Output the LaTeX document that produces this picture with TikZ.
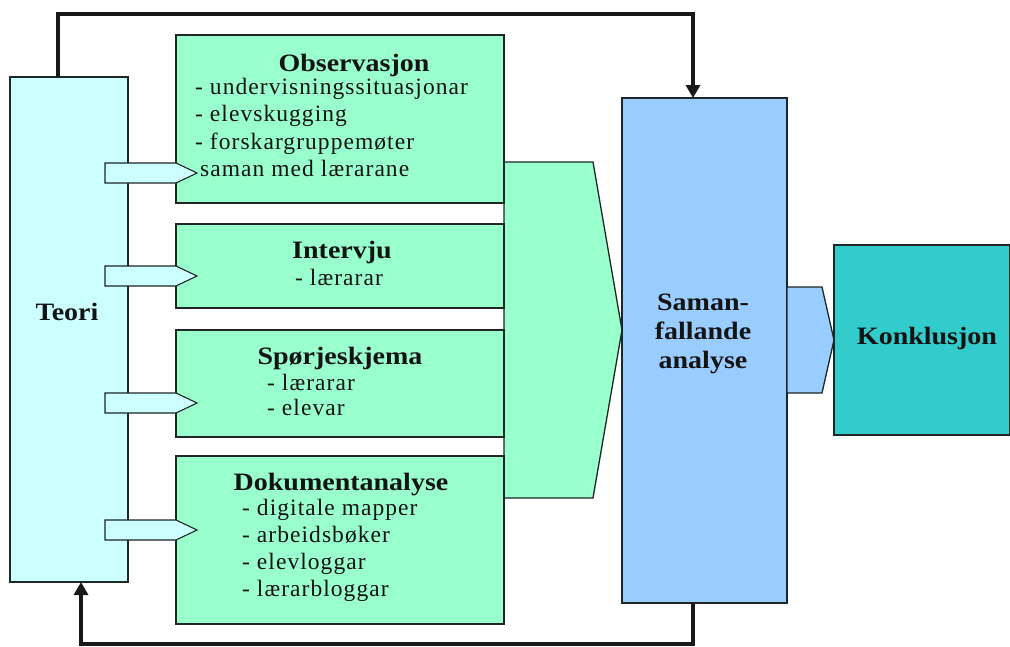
\documentclass[tikz,border=0pt]{standalone}
\usepackage{fontspec}
\setmainfont{Liberation Serif}
\newfontfamily\ttlfont[FakeStretch=1.12]{Liberation Serif}
\newfontfamily\itmfont[LetterSpace=4.5]{Liberation Serif}
\usetikzlibrary{arrows.meta}
\definecolor{teoric}{HTML}{CCFFFF}
\definecolor{greenc}{HTML}{99FFCC}
\definecolor{samanc}{HTML}{99CCFF}
\definecolor{konkc}{HTML}{33CCCC}
\definecolor{edgec}{HTML}{1E2626}
\definecolor{txtc}{HTML}{141414}
\tikzset{
  boxshape/.style={draw=edgec, line width=1.3pt, inner sep=0pt, outer sep=0pt},
  ttl/.style={font=\ttlfont\bfseries\fontsize{25}{29}\selectfont, anchor=base, inner sep=0pt, text=txtc},
  itm/.style={font=\itmfont\fontsize{23.5}{27.5}\selectfont, anchor=base west, inner sep=0pt, text=txtc},
  chev/.style={draw=edgec, line width=1.3pt, line join=miter},
  fbarrow/.style={line width=4pt, draw=black!90, line join=miter, -{Triangle[width=14pt,length=13pt]}}
}
\begin{document}
\begin{tikzpicture}[x=1pt,y=-1pt]
\useasboundingbox (0,0) rectangle (1010,646);
\fill[white] (0,0) rectangle (1010,646);
% Teori
\node[boxshape, fill=teoric, minimum width=118pt, minimum height=505pt] (teori) at (69,329.5) {};
% big chevron
\draw[chev, fill=greenc] (504,162) -- (593,162) -- (622,330) -- (593,498) -- (504,498) -- cycle;
% green boxes
\node[boxshape, fill=greenc, minimum width=328pt, minimum height=168pt] (obs) at (340,119) {};
\node[boxshape, fill=greenc, minimum width=328pt, minimum height=84pt] (int) at (340,266) {};
\node[boxshape, fill=greenc, minimum width=328pt, minimum height=107pt] (spo) at (340,383.5) {};
\node[boxshape, fill=greenc, minimum width=328pt, minimum height=168pt] (dok) at (340,540) {};
% small arrows from Teori
\foreach \yc in {173,276,403,530}{
  \draw[chev, line width=1.1pt, fill=teoric] (105,\yc-10) -- (176,\yc-10) -- (197,\yc) -- (176,\yc+10) -- (105,\yc+10) -- cycle;
}
% Saman
\node[boxshape, fill=samanc, minimum width=165pt, minimum height=505pt] (saman) at (704.5,350.5) {};
% small chevron
\draw[chev, fill=samanc] (787,287) -- (822,287) -- (834,340) -- (822,393) -- (787,393) -- cycle;
% Konklusjon
\node[boxshape, fill=konkc, minimum width=176pt, minimum height=190pt] (konk) at (922,340) {};
% texts
\node[ttl] (teorit) at (67,320) {Teori};
\node[ttl] (obst) at (354,71) {Observasjon};
\node[itm] (obsi) at (195,94) {\begin{tabular}[t]{@{}l@{}}- undervisningssituasjonar\\- elevskugging\\- forskargruppemøter\\\hspace{5pt}saman med lærarane\end{tabular}};
\node[ttl] (intt) at (342,258) {Intervju};
\node[itm] (inti) at (295,285) {- lærarar};
\node[ttl] (spot) at (340,364) {Spørjeskjema};
\node[itm, font=\itmfont\fontsize{23.5}{25.5}\selectfont] (spoi) at (267,390) {\begin{tabular}[t]{@{}l@{}}- lærarar\\- elevar\end{tabular}};
\node[ttl] (dokt) at (341,490) {Dokumentanalyse};
\node[itm, font=\itmfont\fontsize{23.5}{27.3}\selectfont] (doki) at (242,515) {\begin{tabular}[t]{@{}l@{}}- digitale mapper\\- arbeidsbøker\\- elevloggar\\- lærarbloggar\end{tabular}};
\node[ttl] (samant) at (703,310) {\begin{tabular}[t]{@{}c@{}}Saman-\\fallande\\analyse\end{tabular}};
\node[ttl] (konkt) at (927,344) {Konklusjon};
% feedback connectors
\coordinate (tl) at (58,14);
\coordinate (tr) at (693,14);
\coordinate (bl) at (81,644);
\coordinate (br) at (693,644);
\draw[fbarrow] (teori.north -| tl) -- (tl) -- (tr) -- (saman.north -| tr);
\draw[fbarrow] (saman.south -| br) -- (br) -- (bl) -- (teori.south -| bl);
\end{tikzpicture}
\end{document}
